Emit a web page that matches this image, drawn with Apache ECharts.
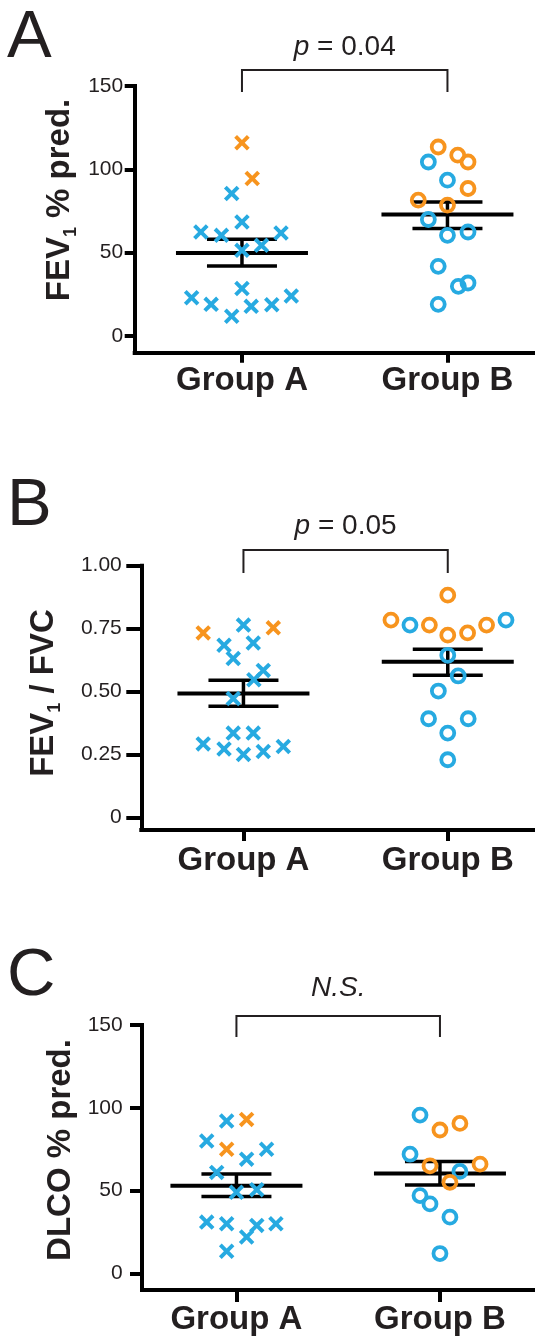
<!DOCTYPE html>
<html>
<head>
<meta charset="utf-8">
<script src="https://cdn.jsdelivr.net/npm/echarts@6/dist/echarts.min.js"></script>
<style>
html,body{margin:0;padding:0;background:#fff;}
#chart{width:535px;height:1336px;}
</style>
</head>
<body>
<div id="chart"></div>
<script>
// ---------------- DATA ----------------
const groups = ['Group A', 'Group B'];
// each point: [horizontal jitter offset from group centre (axis units), value]
// Panel A: FEV1 % pred.
const fevGroupA_blue = [[-0.05,85.5],[0,68.4],[-0.2,62.4],[-0.1,60.4],[0.19,61.8],[0,51.4],[0.095,54.4],[0,28.5],[-0.245,23],[-0.15,19],[-0.05,11.9],[0.045,17.8],[0.145,18.8],[0.24,24]];
const fevGroupA_orange = [[0,116],[0.05,94.5]];
const fevGroupB_blue = [[-0.093,104.4],[0,93.5],[-0.093,69.9],[0,60.4],[0.1,62.4],[-0.045,41.8],[0.053,29.8],[0.1,31.8],[-0.045,19]];
const fevGroupB_orange = [[-0.045,113.4],[0.05,108.5],[0.1,104.4],[0.1,88.5],[-0.142,81.5],[0,78.5]];
const fevMeanSem = [[49.8,42.0,58.0],[72.9,64.5,80.4]]; // mean, mean-SEM, mean+SEM
const fevP = 'p = 0.04';

// Panel B: FEV1 / FVC
const ratioGroupA_blue = [[0,0.764],[-0.095,0.684],[0.048,0.693],[-0.05,0.631],[0.097,0.584],[0.051,0.547],[-0.05,0.472],[-0.05,0.335],[0.048,0.335],[-0.197,0.292],[-0.095,0.272],[0,0.25],[0.097,0.262],[0.195,0.282]];
const ratioGroupA_orange = [[-0.197,0.733],[0.146,0.753]];
const ratioGroupB_blue = [[-0.185,0.764],[0.285,0.784],[0,0.644],[0.051,0.562],[-0.046,0.502],[-0.094,0.392],[0.1,0.392],[0,0.335],[0,0.229]];
const ratioGroupB_orange = [[0,0.883],[-0.278,0.784],[-0.09,0.764],[0,0.724],[0.097,0.733],[0.19,0.764]];
const ratioMeanSem = [[0.492,0.442,0.545],[0.618,0.565,0.668]];
const ratioP = 'p = 0.05';

// Panel C: DLCO % pred.
const dlcoGroupA_blue = [[-0.048,92],[-0.146,80],[0.148,75],[0.05,69],[-0.097,61],[0,49],[0.1,50.6],[-0.146,31],[-0.048,30],[0.1,29],[0.194,30],[0.05,22],[-0.048,13.4]];
const dlcoGroupA_orange = [[0.05,93],[-0.048,75]];
const dlcoGroupB_blue = [[-0.098,95.6],[-0.147,72],[0.098,61.6],[-0.098,47],[-0.049,42],[0.049,34],[0,12]];
const dlcoGroupB_orange = [[0,86.6],[0.098,90.6],[-0.049,65],[0.197,66],[0.049,55]];
const dlcoMeanSem = [[53.0,46.4,60.0],[60.4,53.4,67.6]];
const dlcoP = 'N.S.';

const ticks150 = [0, 50, 100, 150];
const ticksRatio = [0, 0.25, 0.5, 0.75, 1];

// ---------------- STYLE / LAYOUT ----------------
const FONT = '"Liberation Sans", Arial, Helvetica, sans-serif';
const BLUE = '#27AAE1', ORANGE = '#F7941E', INK = '#000';
const CROSS = 'path://M0,1.8L1.8,0L5,3.2L8.2,0L10,1.8L6.8,5L10,8.2L8.2,10L5,6.8L1.8,10L0,8.2L3.2,5Z';

const panels = [
  { grid:{left:134.7, top:86, width:400.3, height:266.7}, x:[0.478,2.426], y:[-10,150], ticks:ticks150, fmt:v=>String(v),
    tickLen:10, labMargin:11.5, xTickLen:10, xLabMargin:12,
    A:{blue:fevGroupA_blue, orange:fevGroupA_orange}, B:{blue:fevGroupB_blue, orange:fevGroupB_orange}, ms:fevMeanSem,
    letter:'A', letterY:39, ptext:fevP, ptextY:47, bracketTop:70, bracketBot:92,
    title:'{a|FEV}{s|1}{a| % pred.}', titleX:60, titleY:200 },
  { grid:{left:141.3, top:565.7, width:393.7, height:264.3}, x:[0.5,2.427], y:[-0.05,1], ticks:ticksRatio, fmt:v=>v===0?'0':v.toFixed(2),
    tickLen:15, labMargin:19.5, xTickLen:11, xLabMargin:14,
    A:{blue:ratioGroupA_blue, orange:ratioGroupA_orange}, B:{blue:ratioGroupB_blue, orange:ratioGroupB_orange}, ms:ratioMeanSem,
    letter:'B', letterY:507, ptext:ratioP, ptextY:526, bracketTop:550, bracketBot:573,
    title:'{a|FEV}{s|1}{a| / FVC}', titleX:44, titleY:693 },
  { grid:{left:142, top:1025, width:393, height:266}, x:[0.536,2.467], y:[-10,150], ticks:ticks150, fmt:v=>String(v),
    tickLen:12, labMargin:19.3, xTickLen:12, xLabMargin:13,
    A:{blue:dlcoGroupA_blue, orange:dlcoGroupA_orange}, B:{blue:dlcoGroupB_blue, orange:dlcoGroupB_orange}, ms:dlcoMeanSem,
    letter:'C', letterY:977, ptext:dlcoP, ptextY:988, bracketTop:1016, bracketBot:1037,
    title:'{a|DLCO % pred.}', titleX:61, titleY:1150 }
];

function errRender(params, api) {
  const x = api.value(0);
  const pm = api.coord([x, api.value(1)]);
  const pl = api.coord([x, api.value(2)]);
  const ph = api.coord([x, api.value(3)]);
  const st = w => ({stroke: INK, lineWidth: w});
  return {type:'group', children:[
    {type:'line', shape:{x1:pm[0]-66, y1:pm[1], x2:pm[0]+66, y2:pm[1]}, style:st(4)},
    {type:'line', shape:{x1:pl[0]-35, y1:pl[1], x2:pl[0]+35, y2:pl[1]}, style:st(3.5)},
    {type:'line', shape:{x1:ph[0]-35, y1:ph[1], x2:ph[0]+35, y2:ph[1]}, style:st(3.5)},
    {type:'line', shape:{x1:pm[0], y1:pl[1], x2:pm[0], y2:ph[1]}, style:st(3.5)}
  ]};
}

const grids = [], xAxes = [], yAxes = [], series = [];
panels.forEach((p, i) => {
  grids.push(Object.assign({containLabel:false}, p.grid));
  xAxes.push({
    type:'value', gridIndex:i, min:p.x[0], max:p.x[1],
    axisLine:{onZero:false, lineStyle:{color:INK, width:4, cap:'square'}},
    axisTick:{customValues:[1,2], length:p.xTickLen, lineStyle:{color:INK, width:4}},
    axisLabel:{customValues:[1,2], formatter:v=>groups[Math.round(v)-1], margin:p.xLabMargin,
      color:'#231F20', fontFamily:FONT, fontWeight:'bold', fontSize:33},
    splitLine:{show:false}
  });
  yAxes.push({
    type:'value', gridIndex:i, min:p.y[0], max:p.y[1],
    axisLine:{show:true, onZero:false, lineStyle:{color:INK, width:4, cap:'square'}},
    axisTick:{show:true, customValues:p.ticks, length:p.tickLen, lineStyle:{color:INK, width:4}},
    axisLabel:{customValues:p.ticks, formatter:p.fmt, margin:p.labMargin,
      color:'#231F20', fontFamily:FONT, fontSize:21},
    splitLine:{show:false}
  });
  series.push({
    type:'custom', xAxisIndex:i, yAxisIndex:i, z:2, silent:true,
    renderItem:errRender, encode:{x:0, y:[1,2,3]},
    data:[[1].concat(p.ms[0]), [2].concat(p.ms[1])]
  });
  const mk = (arr, g) => arr.map(d => [g + d[0], d[1]]);
  series.push({type:'scatter', xAxisIndex:i, yAxisIndex:i, z:5, symbol:CROSS, symbolSize:15.5,
    itemStyle:{color:BLUE, opacity:1}, data:mk(p.A.blue,1)});
  series.push({type:'scatter', xAxisIndex:i, yAxisIndex:i, z:6, symbol:CROSS, symbolSize:15.5,
    itemStyle:{color:ORANGE, opacity:1}, data:mk(p.A.orange,1)});
  series.push({type:'scatter', xAxisIndex:i, yAxisIndex:i, z:5, symbol:'circle', symbolSize:13,
    itemStyle:{color:'rgba(255,255,255,0)', borderColor:BLUE, borderWidth:3.8, opacity:1}, data:mk(p.B.blue,2)});
  series.push({type:'scatter', xAxisIndex:i, yAxisIndex:i, z:6, symbol:'circle', symbolSize:13,
    itemStyle:{color:'rgba(255,255,255,0)', borderColor:ORANGE, borderWidth:3.8, opacity:1}, data:mk(p.B.orange,2)});
});

const chart = echarts.init(document.getElementById('chart'), null, {renderer:'canvas'});
chart.setOption({
  animation:false, backgroundColor:'#fff',
  grid:grids, xAxis:xAxes, yAxis:yAxes, series:series
});

// annotations (letters, titles, brackets, p-values)
const graphics = [];
panels.forEach((p, i) => {
  const xa = chart.convertToPixel({gridIndex:i}, [1, p.y[0]])[0];
  const xb = chart.convertToPixel({gridIndex:i}, [2, p.y[0]])[0];
  graphics.push({type:'text', x:7, y:p.letterY, style:{text:p.letter, fontFamily:FONT, fontSize:67, fill:'#231F20', align:'left', verticalAlign:'middle'}});
  graphics.push({type:'polyline', shape:{points:[[xa,p.bracketBot],[xa,p.bracketTop],[xb,p.bracketTop],[xb,p.bracketBot]]},
    style:{stroke:'#231F20', lineWidth:2, fill:null}});
  const isNS = p.ptext === 'N.S.';
  const ptxt = isNS ? '{i|N.S.}' : '{i|p}{n|' + p.ptext.slice(1) + '}';
  graphics.push({type:'text', x:(xa+xb)/2, y:p.ptextY, style:{text:ptxt, align:'center', verticalAlign:'middle',
    rich:{i:{fontFamily:FONT, fontSize:28, fontStyle:'italic', fill:'#231F20'}, n:{fontFamily:FONT, fontSize:28, fill:'#231F20'}}}});
  graphics.push({type:'text', x:p.titleX, y:p.titleY, rotation:Math.PI/2, style:{text:p.title, align:'center', verticalAlign:'middle',
    rich:{a:{fontFamily:FONT, fontSize:33, fontWeight:'bold', fill:'#231F20', lineHeight:40},
          s:{fontFamily:FONT, fontSize:18, fontWeight:'bold', fill:'#231F20', lineHeight:16, verticalAlign:'bottom'}}}});
});
chart.setOption({graphic:graphics});
</script>
</body>
</html>
